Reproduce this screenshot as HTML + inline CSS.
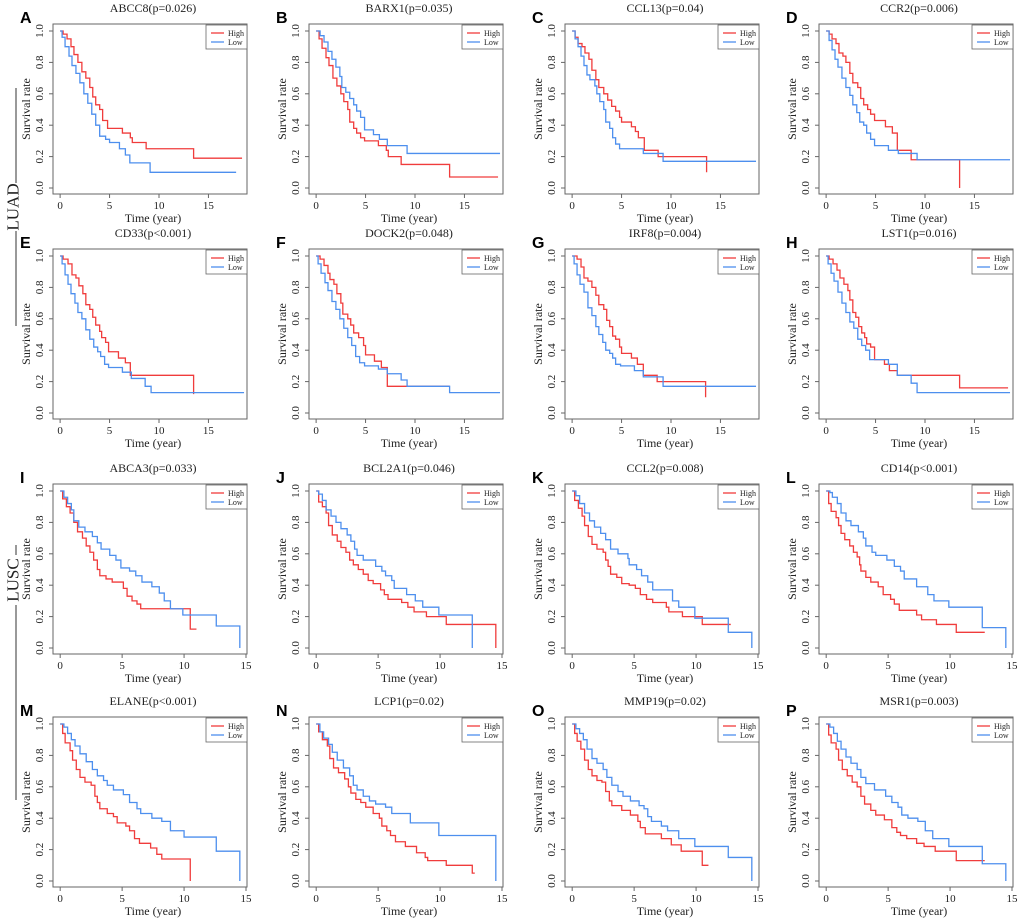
<!DOCTYPE html>
<html><head><meta charset="utf-8">
<style>
html,body{margin:0;padding:0;background:#fff;}
svg{display:block;}
text{font-family:"Liberation Serif",serif;fill:#222;}
.lt{font-family:"Liberation Sans",sans-serif;font-weight:bold;fill:#000;}
</style></head>
<body>
<svg id="fig" width="1020" height="923" viewBox="0 0 1020 923" xmlns="http://www.w3.org/2000/svg">
<g>
<line x1="16" y1="88" x2="16" y2="326" stroke="#333" stroke-width="1"/>
<text x="0" y="0" transform="translate(14,207) rotate(-90)" text-anchor="middle" font-size="17" dominant-baseline="central" style="fill:#fff">LUAD</text>
<rect x="2" y="183" width="22" height="48" fill="#fff"/>
<text x="0" y="0" transform="translate(13,207) rotate(-90)" text-anchor="middle" font-size="17" dominant-baseline="central">LUAD</text>
</g>
<g>
<line x1="16" y1="545" x2="16" y2="800" stroke="#333" stroke-width="1"/>
<rect x="2" y="555" width="22" height="50" fill="#fff"/>
<text x="0" y="0" transform="translate(13,580) rotate(-90)" text-anchor="middle" font-size="17" dominant-baseline="central">LUSC</text>
</g>
</svg>
<script>
const letters=["A","B","C","D","E","F","G","H","I","J","K","L","M","N","O","P"];
const genes=["ABCC8(p=0.026)","BARX1(p=0.035)","CCL13(p=0.04)","CCR2(p=0.006)","CD33(p<0.001)","DOCK2(p=0.048)","IRF8(p=0.004)","LST1(p=0.016)","ABCA3(p=0.033)","BCL2A1(p=0.046)","CCL2(p=0.008)","CD14(p<0.001)","ELANE(p<0.001)","LCP1(p=0.02)","MMP19(p=0.02)","MSR1(p=0.003)"];
const yTicks=[0,0.2,0.4,0.6,0.8,1.0];
const yTickLabels=["0.0","0.2","0.4","0.6","0.8","1.0"];
const xTicks=[0,5,10,15];
const highT=[
[0.3,0.7,1.1,1.4,1.8,2.2,2.6,3.0,3.3,3.6,4.0,4.3,4.8,6.3,7.1,7.3,8.7,13.5],
[0.3,0.6,1.0,1.3,1.7,2.1,2.5,2.8,3.2,3.4,3.8,4.1,4.5,4.9,6.3,7.1,7.3,8.6,13.5],
[0.3,0.6,1.0,1.3,1.7,2.0,2.4,2.7,3.2,3.6,4.0,4.4,4.8,5.0,6.0,6.4,6.7,7.3,8.7,13.6],
[0.3,0.6,1.0,1.3,1.7,2.0,2.4,2.7,3.2,3.5,3.8,4.2,4.5,4.9,6.0,6.7,7.2,8.6,13.5],
[0.3,0.8,1.2,1.6,1.9,2.3,2.6,3.0,3.3,3.6,4.0,4.2,4.6,4.9,5.9,6.6,7.1,13.5],
[0.4,0.8,1.2,1.4,1.8,2.1,2.5,2.7,3.2,3.5,3.8,4.3,4.8,5.0,5.9,6.6,7.2],
[0.5,0.9,1.2,1.6,2.0,2.4,2.7,3.2,3.5,3.8,4.1,4.4,4.8,5.0,6.0,6.6,7.2,8.6,13.5],
[0.3,0.7,1.1,1.4,1.8,2.2,2.4,2.7,3.0,3.3,3.6,3.9,4.1,4.5,4.9,5.9,6.4,7.2,13.5],
[0.2,0.5,0.8,1.1,1.4,1.8,2.1,2.4,2.7,3.0,3.2,3.7,4.2,5.1,5.4,5.8,6.2,6.5,10.5],
[0.2,0.5,0.8,1.0,1.3,1.7,2.0,2.4,2.7,3.0,3.4,3.8,4.2,4.6,5.2,5.5,5.8,6.9,7.4,7.9,8.9,10.5,14.5],
[0.2,0.5,0.8,1.0,1.3,1.6,2.0,2.5,2.7,2.9,3.1,3.6,4.0,4.6,5.1,5.5,6.0,6.5,7.6,7.8,8.9,10.5],
[0.2,0.4,0.8,1.0,1.2,1.5,1.9,2.2,2.5,2.7,2.8,3.2,3.6,4.2,4.6,5.2,5.5,5.9,7.3,7.7,8.9,10.5],
[0.2,0.4,0.8,1.0,1.3,1.6,2.0,2.5,2.8,3.0,3.2,3.8,4.3,4.6,5.3,5.6,6.0,6.4,7.3,7.8,8.2,10.5],
[0.2,0.5,0.9,1.1,1.4,1.8,2.3,2.6,2.8,3.2,3.6,4.0,4.6,5.1,5.3,5.7,6.0,6.4,7.2,8.1,8.8,9.0,10.5,12.6],
[0.2,0.4,0.7,1.0,1.3,1.6,2.0,2.4,2.7,3.0,3.2,4.0,4.7,5.3,5.5,5.9,7.2,8.0,8.8,10.5],
[0.2,0.4,0.8,1.0,1.3,1.7,2.1,2.5,2.8,3.1,3.6,4.0,4.7,5.3,5.7,6.0,6.5,7.3,7.9,8.8,10.5]];
const highS=[
[0.98,0.95,0.90,0.85,0.80,0.74,0.70,0.64,0.58,0.53,0.50,0.43,0.38,0.35,0.32,0.29,0.25,0.19],
[0.95,0.89,0.83,0.78,0.70,0.65,0.60,0.55,0.50,0.42,0.38,0.35,0.32,0.30,0.27,0.24,0.20,0.15,0.07],
[0.96,0.92,0.90,0.86,0.82,0.75,0.69,0.64,0.60,0.56,0.52,0.49,0.45,0.42,0.39,0.36,0.32,0.24,0.20,0.10],
[0.98,0.95,0.92,0.86,0.84,0.80,0.73,0.67,0.64,0.57,0.53,0.50,0.47,0.43,0.39,0.35,0.24,0.18,0.0],
[0.98,0.95,0.88,0.86,0.81,0.76,0.69,0.66,0.61,0.56,0.52,0.48,0.45,0.39,0.35,0.32,0.24,0.12],
[0.98,0.94,0.89,0.85,0.82,0.76,0.70,0.63,0.60,0.56,0.51,0.48,0.43,0.37,0.33,0.29,0.17],
[0.98,0.93,0.86,0.84,0.80,0.75,0.69,0.66,0.59,0.55,0.49,0.47,0.42,0.38,0.35,0.31,0.24,0.20,0.10],
[0.98,0.95,0.91,0.86,0.82,0.78,0.72,0.64,0.61,0.55,0.51,0.48,0.44,0.42,0.34,0.31,0.27,0.24,0.16],
[0.95,0.90,0.86,0.80,0.74,0.70,0.65,0.61,0.56,0.50,0.46,0.44,0.42,0.38,0.33,0.30,0.28,0.25,0.12],
[0.93,0.90,0.86,0.78,0.72,0.68,0.64,0.61,0.56,0.53,0.50,0.47,0.43,0.41,0.37,0.34,0.31,0.29,0.26,0.23,0.20,0.15,0.0],
[0.94,0.89,0.84,0.78,0.71,0.66,0.63,0.61,0.56,0.52,0.47,0.45,0.41,0.40,0.38,0.34,0.31,0.29,0.26,0.23,0.20,0.15],
[0.92,0.87,0.83,0.78,0.73,0.69,0.65,0.61,0.58,0.53,0.49,0.45,0.42,0.39,0.34,0.31,0.28,0.24,0.21,0.18,0.15,0.10],
[0.94,0.88,0.83,0.77,0.71,0.66,0.63,0.61,0.54,0.50,0.46,0.43,0.41,0.37,0.35,0.32,0.27,0.24,0.21,0.17,0.14,0.0],
[0.95,0.90,0.86,0.78,0.72,0.69,0.65,0.60,0.56,0.52,0.50,0.47,0.43,0.40,0.35,0.32,0.29,0.25,0.22,0.18,0.15,0.13,0.10,0.05],
[0.94,0.89,0.84,0.77,0.71,0.67,0.64,0.63,0.57,0.51,0.48,0.45,0.42,0.38,0.34,0.30,0.27,0.23,0.19,0.10],
[0.93,0.88,0.84,0.77,0.71,0.67,0.63,0.60,0.54,0.49,0.45,0.42,0.39,0.34,0.31,0.29,0.27,0.24,0.22,0.19,0.13]];
const highEnd=[18.4,18.4,13.6,13.5,13.5,13.5,13.5,18.4,11.0,14.5,12.8,12.8,10.5,12.8,11.0,12.8];
const lowT=[
[0.2,0.5,0.9,1.2,1.6,2.0,2.4,2.8,3.2,3.6,4.0,4.6,5.0,6.0,6.6,7.05,9.1],
[0.4,0.8,1.2,1.6,2.0,2.4,2.6,3.0,3.4,3.8,4.1,4.5,4.9,5.8,6.4,7.2,9.2],
[0.3,0.6,0.9,1.2,1.5,1.8,2.3,2.5,2.8,3.2,3.4,3.8,4.1,4.4,4.8,7.2,9.2],
[0.3,0.6,0.9,1.2,1.6,2.0,2.4,2.7,3.1,3.4,3.8,4.1,4.5,4.9,6.3,7.3,9.2],
[0.2,0.5,0.8,1.1,1.5,1.8,2.2,2.6,3.0,3.4,3.8,4.1,4.5,4.9,6.3,7.2,8.6,9.2],
[0.2,0.5,0.9,1.2,1.6,2.0,2.4,2.8,3.2,3.6,4.0,4.4,4.9,6.3,7.2,8.6,9.2,13.5],
[0.2,0.5,0.8,1.2,1.6,2.0,2.4,2.7,3.1,3.4,3.8,4.1,4.4,4.9,6.3,7.2,9.2],
[0.2,0.5,0.8,1.2,1.6,2.0,2.4,2.8,3.2,3.6,4.0,4.4,6.3,7.2,8.6,9.2],
[0.3,0.6,0.9,1.1,1.5,2.0,2.6,3.0,3.3,4.0,4.5,4.9,5.6,6.1,6.6,7.4,8.0,8.4,8.9,9.9,12.6,14.5],
[0.2,0.5,0.8,1.2,1.6,2.0,2.5,2.8,3.1,3.3,3.8,4.8,5.3,5.6,6.1,6.3,7.3,8.0,8.6,9.9,12.6],
[0.3,0.6,1.0,1.4,1.8,2.3,2.7,3.1,3.7,4.5,4.6,5.2,5.6,6.1,6.5,8.1,8.6,9.9,12.6,14.5],
[0.3,0.5,0.9,1.2,1.6,2.0,2.6,3.0,3.2,3.7,4.0,4.9,5.5,6.0,6.3,7.3,8.2,8.7,9.9,12.6,14.5],
[0.3,0.6,0.9,1.2,1.6,2.1,2.6,3.0,3.5,3.8,4.3,5.1,5.6,6.2,6.5,7.4,8.2,8.9,10.0,12.6,14.5],
[0.3,0.6,1.0,1.3,1.7,2.2,2.7,3.0,3.3,3.8,4.3,4.8,5.6,6.1,7.6,9.9,14.5],
[0.3,0.6,0.9,1.2,1.6,2.0,2.5,2.8,3.2,3.7,4.1,4.7,5.4,5.8,6.1,6.4,7.2,7.7,8.6,9.9,12.6,14.5],
[0.3,0.6,0.9,1.2,1.6,2.0,2.5,2.8,3.2,3.9,4.8,5.3,5.8,6.1,6.6,7.4,8.0,8.6,9.9,12.6,14.5]];
const lowS=[
[0.96,0.90,0.84,0.78,0.73,0.67,0.60,0.54,0.47,0.40,0.33,0.31,0.29,0.25,0.21,0.16,0.10],
[0.97,0.93,0.87,0.82,0.77,0.71,0.64,0.61,0.57,0.53,0.49,0.45,0.37,0.34,0.31,0.27,0.22],
[0.95,0.90,0.84,0.78,0.72,0.69,0.65,0.60,0.55,0.50,0.42,0.38,0.32,0.28,0.25,0.22,0.17],
[0.94,0.88,0.82,0.77,0.70,0.64,0.59,0.53,0.48,0.42,0.40,0.35,0.31,0.27,0.24,0.22,0.18],
[0.95,0.88,0.82,0.76,0.70,0.64,0.60,0.53,0.47,0.42,0.39,0.36,0.31,0.29,0.26,0.22,0.17,0.13],
[0.95,0.89,0.83,0.78,0.71,0.66,0.60,0.54,0.48,0.43,0.36,0.32,0.30,0.28,0.25,0.21,0.17,0.13],
[0.95,0.88,0.82,0.77,0.67,0.62,0.55,0.50,0.45,0.40,0.38,0.35,0.31,0.30,0.27,0.23,0.17],
[0.95,0.89,0.84,0.77,0.70,0.64,0.58,0.54,0.47,0.43,0.40,0.34,0.31,0.24,0.19,0.13],
[0.96,0.92,0.88,0.81,0.77,0.74,0.71,0.67,0.63,0.59,0.56,0.51,0.49,0.46,0.42,0.39,0.35,0.30,0.25,0.21,0.14,0.0],
[0.98,0.94,0.88,0.84,0.80,0.76,0.72,0.68,0.63,0.59,0.56,0.52,0.49,0.46,0.43,0.38,0.34,0.30,0.26,0.21,0.0],
[0.97,0.92,0.86,0.81,0.77,0.73,0.69,0.63,0.60,0.57,0.53,0.50,0.46,0.42,0.37,0.30,0.26,0.19,0.10,0.0],
[0.99,0.96,0.92,0.86,0.81,0.78,0.74,0.70,0.65,0.61,0.59,0.56,0.52,0.49,0.44,0.39,0.34,0.30,0.26,0.13,0.0],
[0.98,0.94,0.90,0.86,0.81,0.76,0.71,0.67,0.64,0.61,0.58,0.55,0.50,0.46,0.43,0.40,0.38,0.32,0.28,0.19,0.0],
[0.95,0.91,0.87,0.82,0.77,0.72,0.67,0.61,0.58,0.54,0.51,0.49,0.47,0.43,0.37,0.29,0.0],
[0.97,0.94,0.90,0.84,0.78,0.75,0.71,0.66,0.61,0.57,0.54,0.51,0.48,0.46,0.41,0.38,0.35,0.32,0.27,0.22,0.15,0.0],
[0.98,0.94,0.89,0.84,0.79,0.75,0.71,0.66,0.62,0.58,0.54,0.50,0.47,0.42,0.40,0.38,0.32,0.27,0.22,0.11,0.0]];
const lowEnd=[17.8,18.6,18.6,18.6,18.6,18.6,18.6,18.6,14.5,12.6,14.5,14.5,14.5,14.5,14.5,14.5];

const SVGNS="http://www.w3.org/2000/svg";
const svg=document.getElementById('fig');
const colX=[0,256,512,766], rowY=[0,225,460,693];
function mk(tag,attrs,parent,txt){const e=document.createElementNS(SVGNS,tag);for(const k in attrs)e.setAttribute(k,attrs[k]);if(txt!==undefined)e.textContent=txt;parent.appendChild(e);return e;}

for(let i=0;i<16;i++){
  const ox=colX[i%4], oy=rowY[Math.floor(i/4)];
  const luad=i<8;
  const xmin=luad?-0.72:-0.58, xmax=luad?18.9:15.08;
  const fl=ox+53, fr=ox+247, ft=oy+24, fb=oy+194;
  const X=t=>fl+(t-xmin)/(xmax-xmin)*194;
  const Y=s=>oy+188-s*157;
  const g=mk('g',{},svg);
  
  
  const lt=mk('text',{x:ox+20,y:oy+23,'font-size':16,class:'lt'},g,letters[i]);
  
  
  const ti=mk('text',{x:ox+153,y:oy+12,'font-size':12,'text-anchor':'middle'},g,genes[i]);
  
  
  const fr_=mk('rect',{x:fl,y:ft,width:194,height:170,fill:'none',stroke:'#666','stroke-width':1},g);
  
  
  yTicks.forEach((v,k)=>{
    mk('line',{x1:fl,x2:fl-4,y1:Y(v),y2:Y(v),stroke:'#666'},g);
    const t=mk('text',{x:0,y:0,transform:`translate(${fl-10},${Y(v)}) rotate(-90)`,'font-size':11,'text-anchor':'middle'},g,yTickLabels[k]);
    
    
  });
  xTicks.forEach(v=>{
    mk('line',{x1:X(v),x2:X(v),y1:fb,y2:fb+4,stroke:'#666'},g);
    const t=mk('text',{x:X(v),y:fb+15,'font-size':11,'text-anchor':'middle'},g,String(v));
    
    
  });
  const yt=mk('text',{x:0,y:0,transform:`translate(${ox+30},${oy+109}) rotate(-90)`,'font-size':12,'text-anchor':'middle'},g,'Survival rate');
  
  
  const xt=mk('text',{x:ox+153,y:fb+28,'font-size':12,'text-anchor':'middle'},g,'Time (year)');
  
  
  const series=[[highT[i],highS[i],highEnd[i],'#f03c3c','high'],[lowT[i],lowS[i],lowEnd[i],'#4d8fee','low']];
  series.forEach(([T,S,E,c,nm])=>{
    let d=`M${X(0)},${Y(1)}`, cur=1;
    for(let k=0;k<T.length;k++){d+=` H${X(T[k])} V${Y(S[k])}`;cur=S[k];}
    d+=` H${X(E)}`;
    const p=mk('path',{d:d,fill:'none',stroke:c,'stroke-width':1.3},g);
    
    
  });
  const lg=mk('g',{},g);
  
  
  mk('rect',{x:fr-41,y:ft+1,width:41,height:24,fill:'#fff',stroke:'#666','stroke-width':0.8},lg);
  mk('line',{x1:fr-36,x2:fr-23,y1:ft+9,y2:ft+9,stroke:'#f03c3c','stroke-width':1.3},lg);
  mk('line',{x1:fr-36,x2:fr-23,y1:ft+18,y2:ft+18,stroke:'#4d8fee','stroke-width':1.3},lg);
  const h=mk('text',{x:fr-19,y:ft+12,'font-size':8},lg,'High');
  
  
  const l=mk('text',{x:fr-19,y:ft+21,'font-size':8},lg,'Low');
  
  
}
</script>
</body></html>
